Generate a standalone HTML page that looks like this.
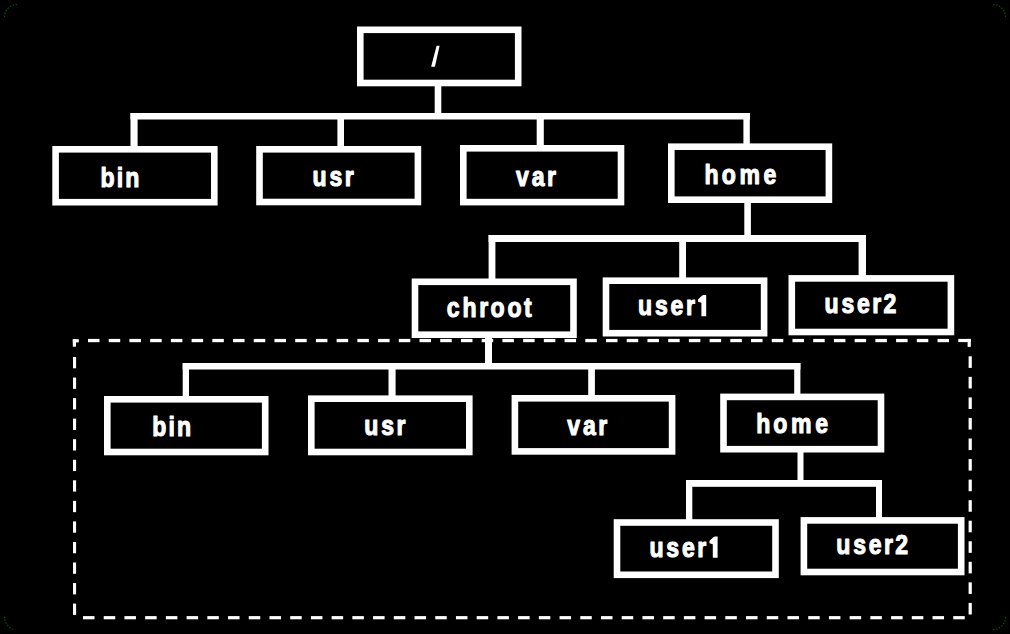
<!DOCTYPE html>
<html><head><meta charset="utf-8"><style>
html,body{margin:0;padding:0;background:#000;width:1010px;height:634px;overflow:hidden;}
svg{display:block;}
text{font-family:"Liberation Sans",sans-serif;}
</style></head><body>
<svg width="1010" height="634" viewBox="0 0 1010 634">
<rect width="1010" height="634" fill="#000"/>
<g fill="#fff">
<rect x="434.7" y="85" width="6.60" height="29.00"/>
<rect x="130.5" y="113" width="619.50" height="6.50"/>
<rect x="130.5" y="113" width="7.10" height="34.00"/>
<rect x="337.4" y="113" width="6.60" height="34.00"/>
<rect x="536.7" y="113" width="7.10" height="33.00"/>
<rect x="743.4" y="113" width="6.40" height="31.00"/>
<rect x="744.3" y="202" width="6.60" height="34.00"/>
<rect x="488.6" y="235" width="377.40" height="7.00"/>
<rect x="488.6" y="235" width="6.80" height="44.00"/>
<rect x="679.2" y="235" width="6.80" height="43.00"/>
<rect x="858.6" y="235" width="7.40" height="41.00"/>
<rect x="485" y="337" width="7.00" height="27.00"/>
<rect x="182.7" y="363" width="617.70" height="6.50"/>
<rect x="182.7" y="363" width="6.30" height="34.00"/>
<rect x="388.5" y="363" width="7.10" height="33.00"/>
<rect x="588.2" y="363" width="6.70" height="33.00"/>
<rect x="794.2" y="363" width="6.20" height="31.00"/>
<rect x="797.5" y="452" width="6.00" height="29.00"/>
<rect x="686" y="480" width="196.00" height="6.80"/>
<rect x="686" y="480" width="6.30" height="40.00"/>
<rect x="876" y="480" width="6.00" height="38.00"/>
</g>
<g fill="#000" stroke="#fff" stroke-width="6.6">
<rect x="360.30" y="29.80" width="157.90" height="53.20"/>
<rect x="55.60" y="149.30" width="158.70" height="52.90"/>
<rect x="259.50" y="149.30" width="158.40" height="52.70"/>
<rect x="463.30" y="148.30" width="157.70" height="53.80"/>
<rect x="671.30" y="146.70" width="157.60" height="53.00"/>
<rect x="415.00" y="281.80" width="158.50" height="52.90"/>
<rect x="606.00" y="280.70" width="158.10" height="52.50"/>
<rect x="791.80" y="278.40" width="159.10" height="53.60"/>
<rect x="107.30" y="399.30" width="157.90" height="52.70"/>
<rect x="311.30" y="398.70" width="158.00" height="53.30"/>
<rect x="514.90" y="398.30" width="157.20" height="53.10"/>
<rect x="723.50" y="396.90" width="157.50" height="52.30"/>
<rect x="617.00" y="522.50" width="158.50" height="52.30"/>
<rect x="803.90" y="520.40" width="157.30" height="51.60"/>
</g>
<g fill="#fff">
<rect x="88.00" y="338.9" width="11.5" height="3.30"/>
<rect x="108.72" y="338.9" width="11.5" height="3.30"/>
<rect x="129.44" y="338.9" width="11.5" height="3.30"/>
<rect x="150.16" y="338.9" width="11.5" height="3.30"/>
<rect x="170.88" y="338.9" width="11.5" height="3.30"/>
<rect x="191.60" y="338.9" width="11.5" height="3.30"/>
<rect x="212.32" y="338.9" width="11.5" height="3.30"/>
<rect x="233.04" y="338.9" width="11.5" height="3.30"/>
<rect x="253.76" y="338.9" width="11.5" height="3.30"/>
<rect x="274.48" y="338.9" width="11.5" height="3.30"/>
<rect x="295.20" y="338.9" width="11.5" height="3.30"/>
<rect x="315.92" y="338.9" width="11.5" height="3.30"/>
<rect x="336.64" y="338.9" width="11.5" height="3.30"/>
<rect x="357.36" y="338.9" width="11.5" height="3.30"/>
<rect x="378.08" y="338.9" width="11.5" height="3.30"/>
<rect x="398.80" y="338.9" width="11.5" height="3.30"/>
<rect x="419.52" y="338.9" width="11.5" height="3.30"/>
<rect x="440.24" y="338.9" width="11.5" height="3.30"/>
<rect x="460.96" y="338.9" width="11.5" height="3.30"/>
<rect x="481.68" y="338.9" width="11.5" height="3.30"/>
<rect x="502.40" y="338.9" width="11.5" height="3.30"/>
<rect x="523.12" y="338.9" width="11.5" height="3.30"/>
<rect x="543.84" y="338.9" width="11.5" height="3.30"/>
<rect x="564.56" y="338.9" width="11.5" height="3.30"/>
<rect x="585.28" y="338.9" width="11.5" height="3.30"/>
<rect x="606.00" y="338.9" width="11.5" height="3.30"/>
<rect x="626.72" y="338.9" width="11.5" height="3.30"/>
<rect x="647.44" y="338.9" width="11.5" height="3.30"/>
<rect x="668.16" y="338.9" width="11.5" height="3.30"/>
<rect x="688.88" y="338.9" width="11.5" height="3.30"/>
<rect x="709.60" y="338.9" width="11.5" height="3.30"/>
<rect x="730.32" y="338.9" width="11.5" height="3.30"/>
<rect x="751.04" y="338.9" width="11.5" height="3.30"/>
<rect x="771.76" y="338.9" width="11.5" height="3.30"/>
<rect x="792.48" y="338.9" width="11.5" height="3.30"/>
<rect x="813.20" y="338.9" width="11.5" height="3.30"/>
<rect x="833.92" y="338.9" width="11.5" height="3.30"/>
<rect x="854.64" y="338.9" width="11.5" height="3.30"/>
<rect x="875.36" y="338.9" width="11.5" height="3.30"/>
<rect x="896.08" y="338.9" width="11.5" height="3.30"/>
<rect x="916.80" y="338.9" width="11.5" height="3.30"/>
<rect x="937.52" y="338.9" width="11.5" height="3.30"/>
<rect x="72.8" y="339.2" width="6" height="3.2"/>
<rect x="72.8" y="339.2" width="3.2" height="7.5"/>
<rect x="958.3" y="338.9" width="12.5" height="3.2"/>
<rect x="967.6" y="338.9" width="3.2" height="8"/>
<rect x="83.00" y="616.1" width="11.5" height="3.20"/>
<rect x="103.72" y="616.1" width="11.5" height="3.20"/>
<rect x="124.44" y="616.1" width="11.5" height="3.20"/>
<rect x="145.16" y="616.1" width="11.5" height="3.20"/>
<rect x="165.88" y="616.1" width="11.5" height="3.20"/>
<rect x="186.60" y="616.1" width="11.5" height="3.20"/>
<rect x="207.32" y="616.1" width="11.5" height="3.20"/>
<rect x="228.04" y="616.1" width="11.5" height="3.20"/>
<rect x="248.76" y="616.1" width="11.5" height="3.20"/>
<rect x="269.48" y="616.1" width="11.5" height="3.20"/>
<rect x="290.20" y="616.1" width="11.5" height="3.20"/>
<rect x="310.92" y="616.1" width="11.5" height="3.20"/>
<rect x="331.64" y="616.1" width="11.5" height="3.20"/>
<rect x="352.36" y="616.1" width="11.5" height="3.20"/>
<rect x="373.08" y="616.1" width="11.5" height="3.20"/>
<rect x="393.80" y="616.1" width="11.5" height="3.20"/>
<rect x="414.52" y="616.1" width="11.5" height="3.20"/>
<rect x="435.24" y="616.1" width="11.5" height="3.20"/>
<rect x="455.96" y="616.1" width="11.5" height="3.20"/>
<rect x="476.68" y="616.1" width="11.5" height="3.20"/>
<rect x="497.40" y="616.1" width="11.5" height="3.20"/>
<rect x="518.12" y="616.1" width="11.5" height="3.20"/>
<rect x="538.84" y="616.1" width="11.5" height="3.20"/>
<rect x="559.56" y="616.1" width="11.5" height="3.20"/>
<rect x="580.28" y="616.1" width="11.5" height="3.20"/>
<rect x="601.00" y="616.1" width="11.5" height="3.20"/>
<rect x="621.72" y="616.1" width="11.5" height="3.20"/>
<rect x="642.44" y="616.1" width="11.5" height="3.20"/>
<rect x="663.16" y="616.1" width="11.5" height="3.20"/>
<rect x="683.88" y="616.1" width="11.5" height="3.20"/>
<rect x="704.60" y="616.1" width="11.5" height="3.20"/>
<rect x="725.32" y="616.1" width="11.5" height="3.20"/>
<rect x="746.04" y="616.1" width="11.5" height="3.20"/>
<rect x="766.76" y="616.1" width="11.5" height="3.20"/>
<rect x="787.48" y="616.1" width="11.5" height="3.20"/>
<rect x="808.20" y="616.1" width="11.5" height="3.20"/>
<rect x="828.92" y="616.1" width="11.5" height="3.20"/>
<rect x="849.64" y="616.1" width="11.5" height="3.20"/>
<rect x="870.36" y="616.1" width="11.5" height="3.20"/>
<rect x="891.08" y="616.1" width="11.5" height="3.20"/>
<rect x="911.80" y="616.1" width="11.5" height="3.20"/>
<rect x="932.52" y="616.1" width="11.5" height="3.20"/>
<rect x="953.24" y="616.1" width="11.5" height="3.20"/>
<rect x="73.0" y="357.00" width="3.1" height="11.3"/>
<rect x="73.0" y="377.55" width="3.1" height="11.3"/>
<rect x="73.0" y="398.10" width="3.1" height="11.3"/>
<rect x="73.0" y="418.65" width="3.1" height="11.3"/>
<rect x="73.0" y="439.20" width="3.1" height="11.3"/>
<rect x="73.0" y="459.75" width="3.1" height="11.3"/>
<rect x="73.0" y="480.30" width="3.1" height="11.3"/>
<rect x="73.0" y="500.85" width="3.1" height="11.3"/>
<rect x="73.0" y="521.40" width="3.1" height="11.3"/>
<rect x="73.0" y="541.95" width="3.1" height="11.3"/>
<rect x="73.0" y="562.50" width="3.1" height="11.3"/>
<rect x="73.0" y="583.05" width="3.1" height="11.3"/>
<rect x="73.0" y="603.60" width="3.1" height="11.3"/>
<rect x="968.6" y="356.30" width="3.2" height="11.6"/>
<rect x="968.6" y="376.85" width="3.2" height="11.6"/>
<rect x="968.6" y="397.40" width="3.2" height="11.6"/>
<rect x="968.6" y="417.95" width="3.2" height="11.6"/>
<rect x="968.6" y="438.50" width="3.2" height="11.6"/>
<rect x="968.6" y="459.05" width="3.2" height="11.6"/>
<rect x="968.6" y="479.60" width="3.2" height="11.6"/>
<rect x="968.6" y="500.15" width="3.2" height="11.6"/>
<rect x="968.6" y="520.70" width="3.2" height="11.6"/>
<rect x="968.6" y="541.25" width="3.2" height="11.6"/>
<rect x="968.6" y="561.80" width="3.2" height="11.6"/>
<rect x="968.6" y="582.35" width="3.2" height="11.6"/>
<rect x="968.6" y="602.90" width="3.2" height="11.6"/>
</g>
<polygon points="431.1,66.8 434.9,66.8 439.6,45.8 436.6,45.8" fill="#fff"/>
<g fill="#fff" font-family="Liberation Sans" font-weight="bold" font-size="27.5" text-anchor="middle" stroke="#fff" stroke-width="1.1" stroke-linejoin="round">
<text transform="translate(107.56 186.5) scale(0.84 1)">b</text>
<text transform="translate(119.93 186.5) scale(0.84 1)">i</text>
<text transform="translate(132.39 186.5) scale(0.84 1)">n</text>
<text transform="translate(319.65 186.2) scale(0.84 1)">u</text>
<text transform="translate(335.98 186.2) scale(0.84 1)">s</text>
<text transform="translate(349.35 186.2) scale(0.84 1)">r</text>
<text transform="translate(522.54 185.6) scale(0.84 1)">v</text>
<text transform="translate(538.20 185.6) scale(0.84 1)">a</text>
<text transform="translate(551.47 185.6) scale(0.84 1)">r</text>
<text transform="translate(711.62 183.5) scale(0.84 1)">h</text>
<text transform="translate(728.71 183.5) scale(0.84 1)">o</text>
<text transform="translate(749.72 183.5) scale(0.84 1)">m</text>
<text transform="translate(769.96 183.5) scale(0.84 1)">e</text>
<text transform="translate(453.25 316.7) scale(0.84 1)">c</text>
<text transform="translate(469.59 316.7) scale(0.84 1)">h</text>
<text transform="translate(483.69 316.7) scale(0.84 1)">r</text>
<text transform="translate(497.57 316.7) scale(0.84 1)">o</text>
<text transform="translate(514.67 316.7) scale(0.84 1)">o</text>
<text transform="translate(527.89 316.7) scale(0.84 1)">t</text>
<text transform="translate(645.09 315.2) scale(0.84 1)">u</text>
<text transform="translate(661.42 315.2) scale(0.84 1)">s</text>
<text transform="translate(677.02 315.2) scale(0.84 1)">e</text>
<text transform="translate(690.37 315.2) scale(0.84 1)">r</text>
<text transform="translate(831.47 313.2) scale(0.84 1)">u</text>
<text transform="translate(847.81 313.2) scale(0.84 1)">s</text>
<text transform="translate(863.40 313.2) scale(0.84 1)">e</text>
<text transform="translate(876.75 313.2) scale(0.84 1)">r</text>
<text transform="translate(889.85 313.2) scale(0.84 1)">2</text>
<text transform="translate(159.27 435.5) scale(0.84 1)">b</text>
<text transform="translate(171.65 435.5) scale(0.84 1)">i</text>
<text transform="translate(184.10 435.5) scale(0.84 1)">n</text>
<text transform="translate(371.33 435.3) scale(0.84 1)">u</text>
<text transform="translate(387.66 435.3) scale(0.84 1)">s</text>
<text transform="translate(401.04 435.3) scale(0.84 1)">r</text>
<text transform="translate(573.79 435.3) scale(0.84 1)">v</text>
<text transform="translate(589.45 435.3) scale(0.84 1)">a</text>
<text transform="translate(602.72 435.3) scale(0.84 1)">r</text>
<text transform="translate(763.24 432.7) scale(0.84 1)">h</text>
<text transform="translate(780.32 432.7) scale(0.84 1)">o</text>
<text transform="translate(801.33 432.7) scale(0.84 1)">m</text>
<text transform="translate(821.57 432.7) scale(0.84 1)">e</text>
<text transform="translate(656.45 556.8) scale(0.84 1)">u</text>
<text transform="translate(672.78 556.8) scale(0.84 1)">s</text>
<text transform="translate(688.38 556.8) scale(0.84 1)">e</text>
<text transform="translate(701.73 556.8) scale(0.84 1)">r</text>
<text transform="translate(843.27 554.4) scale(0.84 1)">u</text>
<text transform="translate(859.61 554.4) scale(0.84 1)">s</text>
<text transform="translate(875.20 554.4) scale(0.84 1)">e</text>
<text transform="translate(888.55 554.4) scale(0.84 1)">r</text>
<text transform="translate(901.65 554.4) scale(0.84 1)">2</text>
</g>
<g fill="#fff"><polygon points="703.40,294.90 706.20,294.90 706.20,316.20 701.40,316.20 701.40,302.70 698.10,301.70 698.10,299.20 701.90,295.70"/><polygon points="714.80,536.50 717.60,536.50 717.60,557.80 712.80,557.80 712.80,544.30 709.50,543.30 709.50,540.80 713.30,537.30"/></g>
<path d="M4.5 17 A12.5 12.5 0 0 1 17 4.5 M993 4.5 A12.5 12.5 0 0 1 1005.5 17 M1005.5 617 A12.5 12.5 0 0 1 993 629.5 M4.5 616.5 A13 13 0 0 0 14 629.5" fill="none" stroke="#0b4f0b" stroke-width="1.2" stroke-dasharray="1.5 1.5"/>
</svg>
</body></html>
